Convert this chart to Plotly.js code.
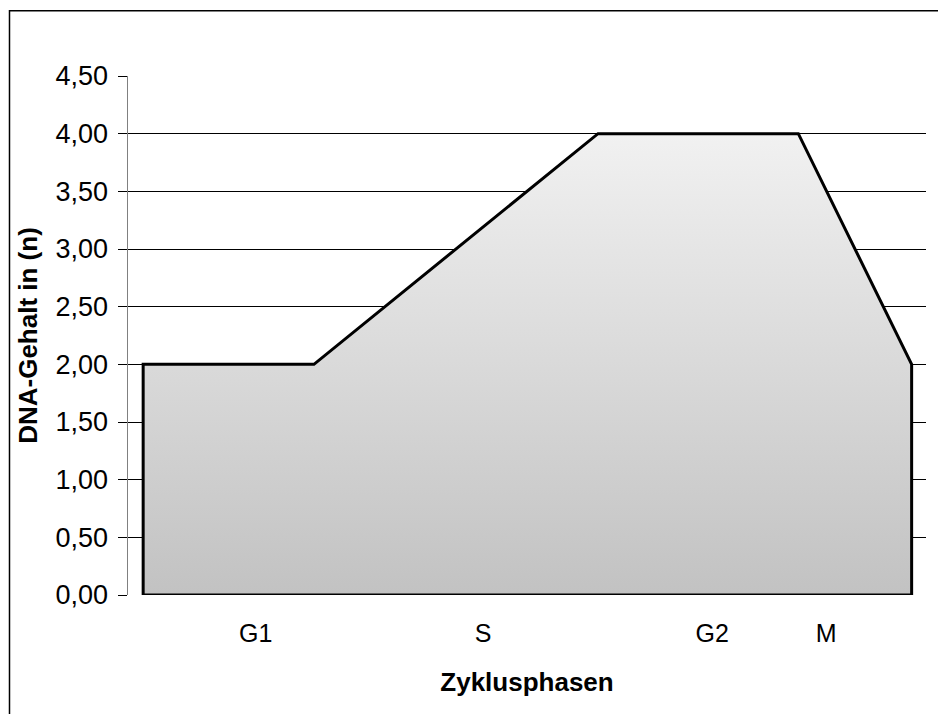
<!DOCTYPE html>
<html>
<head>
<meta charset="utf-8">
<script src="https://cdn.plot.ly/plotly-3.0.1.min.js"></script>
<style>html,body{margin:0;padding:0;background:#fff;}#chart{width:938px;height:714px;}</style>
</head>
<body>
<div id="chart"></div>
<script>
// Time along the cell cycle (relative units) and DNA content (n)
const cycleTime = [1.9, 1.9, 23.3, 58.9, 84.0, 98.2, 98.2, 1.9];
const dnaContent = [0, 2, 2, 4, 4, 2, 0, 0];
// Phase labels and where they sit on the time axis
const phaseLabels = ['G1', 'S', 'G2', 'M'];
const phasePositions = [16.0, 44.5, 73.2, 87.5];
const yTicks = [0, 0.5, 1, 1.5, 2, 2.5, 3, 3.5, 4, 4.5];

const font = 'Arial, "Liberation Sans", sans-serif';

const trace = {
  x: cycleTime,
  y: dnaContent,
  type: 'scatter',
  mode: 'lines',
  fill: 'toself',
  line: {color: '#000', width: 3, shape: 'linear'},
  fillgradient: {
    type: 'vertical',
    start: 0,
    stop: 4,
    colorscale: [[0, '#c2c2c2'], [1, '#f1f1f1']]
  },
  hoverinfo: 'skip',
  showlegend: false
};

const layout = {
  width: 938,
  height: 714,
  margin: {l: 128, r: 12, t: 76, b: 119},
  paper_bgcolor: '#fff',
  plot_bgcolor: '#fff',
  separators: ',.',
  font: {family: font, size: 25, color: '#000'},
  xaxis: {
    range: [0, 100],
    tickmode: 'array',
    tickvals: phasePositions,
    ticktext: phaseLabels,
    ticks: '',
    showgrid: false,
    zeroline: false,
    showline: false,
    tickfont: {family: font, size: 25, color: '#000'},
    ticklabelstandoff: 21,
    automargin: false,
    title: {text: '<b>Zyklusphasen</b>', font: {family: font, size: 26, color: '#000'}, standoff: 26}
  },
  yaxis: {
    range: [0, 4.5],
    tickmode: 'array',
    tickvals: yTicks,
    tickformat: '.2f',
    ticks: 'outside',
    ticklen: 9,
    tickcolor: '#000',
    tickwidth: 1,
    showgrid: true,
    gridcolor: '#000',
    gridwidth: 1,
    zeroline: false,
    showline: true,
    linecolor: '#808080',
    linewidth: 1.5,
    tickfont: {family: font, size: 27, color: '#000'},
    ticklabelstandoff: 4,
    automargin: false,
    title: {text: '<b>DNA-Gehalt in (n)</b>', font: {family: font, size: 26, color: '#000'}, standoff: 10}
  },
  shapes: [{
    type: 'rect',
    xref: 'paper', yref: 'paper',
    x0: -0.1485, x1: 1.05, y0: -0.3, y1: 1.1256,
    line: {color: '#000', width: 1.5},
    fillcolor: 'rgba(0,0,0,0)',
    layer: 'below'
  }]
};

Plotly.newPlot('chart', [trace], layout, {staticPlot: true, displayModeBar: false});
</script>
</body>
</html>
